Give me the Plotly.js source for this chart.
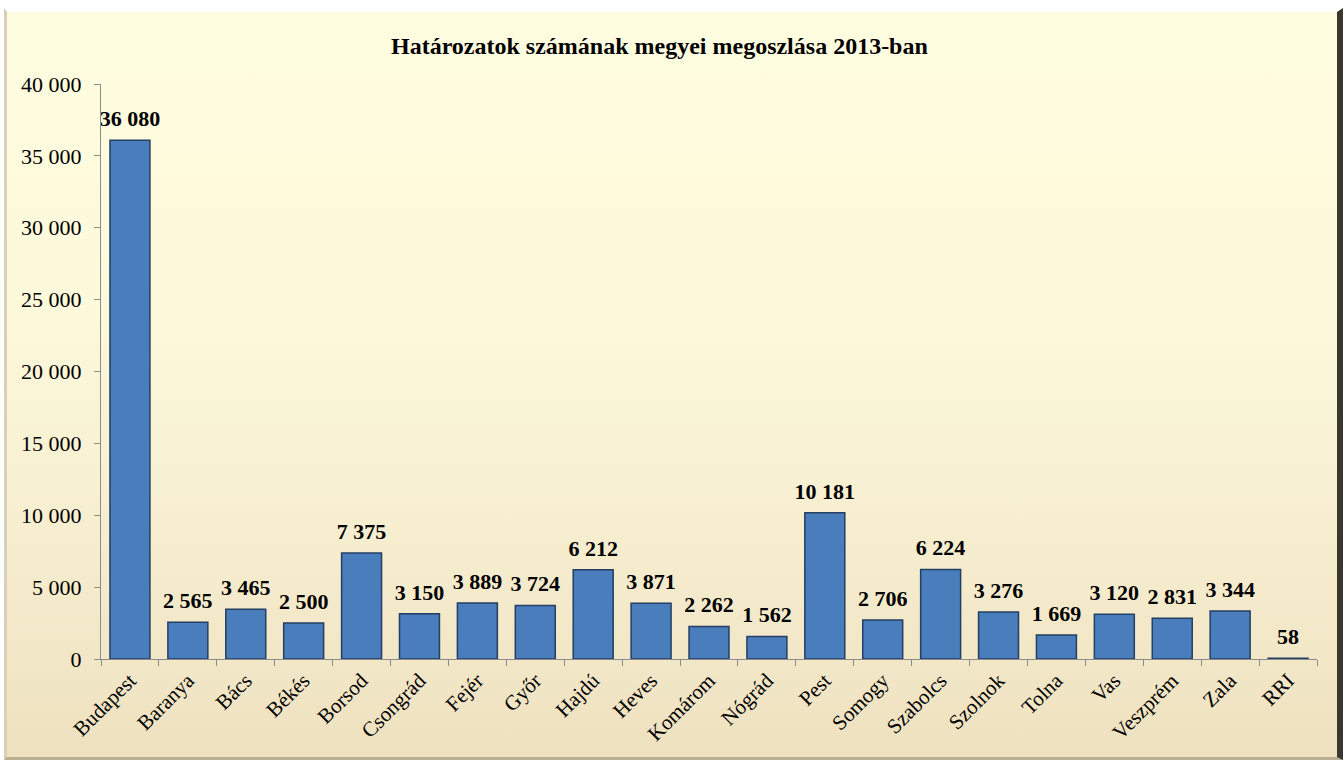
<!DOCTYPE html>
<html>
<head>
<meta charset="utf-8">
<script src="https://cdn.plot.ly/plotly-3.0.1.min.js"></script>
<style>
html,body{margin:0;padding:0;background:#ffffff;}
#frame{position:absolute;left:4px;top:8px;width:1339px;height:752px;
background:linear-gradient(to bottom,#fffde0 0%,#fdf9db 40%,#f5eccd 75%,#eee1c0 100%);
border-top:4px solid #ffffff;border-left:3px solid #d8d0b8;border-right:6px solid #3a3630;border-bottom:3px solid #b9ae90;
box-sizing:border-box;}
#chart{position:absolute;left:0;top:0;width:1343px;height:762px;}
</style>
</head>
<body>
<div id="frame"></div>
<div id="chart"></div>
<script>
const categories = ["Budapest","Baranya","Bács","Békés","Borsod","Csongrád","Fejér","Győr","Hajdú","Heves","Komárom","Nógrád","Pest","Somogy","Szabolcs","Szolnok","Tolna","Vas","Veszprém","Zala","RRI"];
const values = [36080,2565,3465,2500,7375,3150,3889,3724,6212,3871,2262,1562,10181,2706,6224,3276,1669,3120,2831,3344,58];
const yTicks = [0,5000,10000,15000,20000,25000,30000,35000,40000];

const serif = 'Liberation Serif, Times New Roman, serif';

const trace = {
  type: 'bar',
  x: categories,
  y: values,
  marker: {color: '#4a7dbb', line: {color: '#233f63', width: 1.5}},
  texttemplate: '<span style="font-size:22px"><b>%{y:,d}</b></span><br> ',
  textposition: 'outside',
  constraintext: 'none',
  cliponaxis: false,
  textfont: {family: serif, size: 7, color: '#000000'},
  hoverinfo: 'x+y'
};

const layout = {
  width: 1343, height: 762,
  paper_bgcolor: 'rgba(0,0,0,0)',
  plot_bgcolor: 'rgba(0,0,0,0)',
  separators: ', ',
  margin: {l: 101, r: 26, t: 84, b: 103},
  bargap: 0.31,
  showlegend: false,
  font: {family: serif, color: '#000000'},
  title: {
    text: '<b>Határozatok számának megyei megoszlása 2013-ban</b>',
    font: {family: serif, size: 24, color: '#000000'},
    x: 0.491, xanchor: 'center', y: 0.94, yanchor: 'middle'
  },
  xaxis: {
    type: 'category',
    tickangle: -45,
    tickfont: {family: serif, size: 21},
    showline: true, linecolor: '#8c8c8c', linewidth: 1,
    ticks: 'outside', tickson: 'boundaries', ticklen: 6, tickcolor: '#8c8c8c',
    showgrid: false, zeroline: false, automargin: false
  },
  yaxis: {
    range: [0, 40000],
    tickvals: yTicks,
    tickformat: ',d',
    tickfont: {family: serif, size: 22},
    ticklabelstandoff: 8,
    showline: true, linecolor: '#8c8c8c', linewidth: 1,
    ticks: 'outside', ticklen: 6, tickcolor: '#8c8c8c',
    showgrid: false, zeroline: false, automargin: false
  }
};

Plotly.newPlot('chart', [trace], layout, {displayModeBar: false, staticPlot: true});
</script>
</body>
</html>
